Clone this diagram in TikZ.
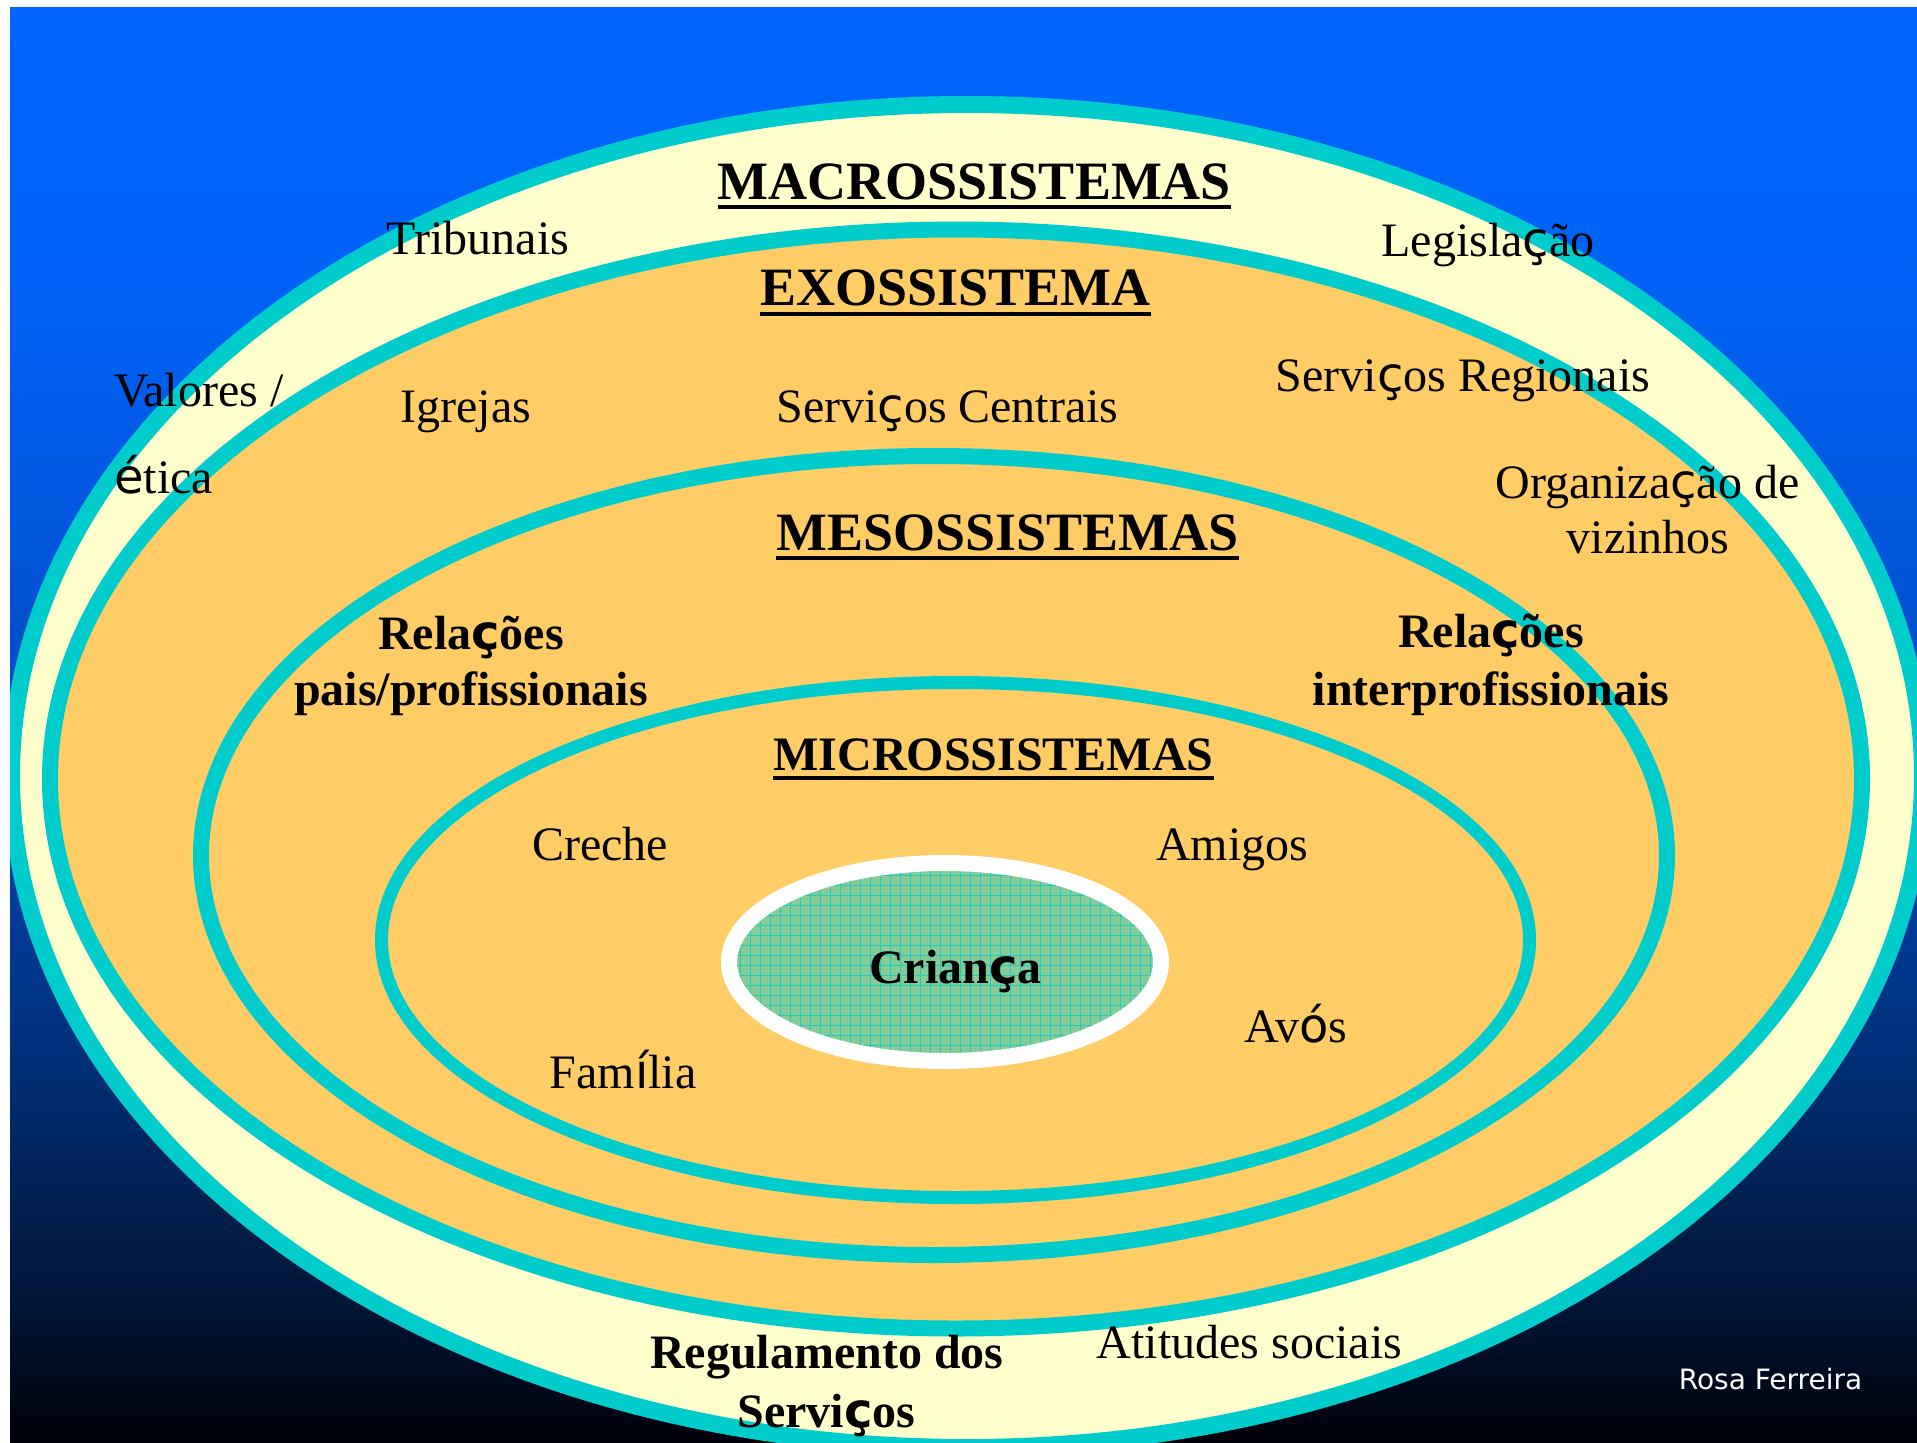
\documentclass[tikz,border=0pt]{standalone}
\usepackage{fontspec}
\setmainfont{Liberation Serif}
\newfontfamily\qfont{DejaVu Sans}
\newfontfamily\rfont{DejaVu Sans}
\newcommand{\qc}[1]{{\qfont #1}}
\definecolor{ringteal}{HTML}{00CCCC}
\definecolor{macroyellow}{HTML}{FFFFCC}
\definecolor{exoorange}{HTML}{FFCC66}
\definecolor{childgreen}{HTML}{86CC98}
\definecolor{gridteal}{HTML}{22CCBB}
\definecolor{bgA}{HTML}{0066FF}
\definecolor{bgB}{HTML}{0062F5}
\definecolor{bgC}{HTML}{0056DA}
\definecolor{bgD}{HTML}{0045B5}
\definecolor{bgE}{HTML}{00307A}
\definecolor{bgF}{HTML}{00204F}
\definecolor{bgG}{HTML}{001638}
\definecolor{bgH}{HTML}{000008}
\begin{document}
\begin{tikzpicture}[x=1pt,y=-1pt,
  txt/.style={inner sep=0pt, anchor=base, font=\fontsize{48}{56}\selectfont},
  txtb/.style={inner sep=0pt, anchor=base, font=\fontsize{48}{56}\selectfont\bfseries},
  ttl/.style={inner sep=0pt, anchor=base, font=\fontsize{54}{62}\selectfont\bfseries},
  ttls/.style={inner sep=0pt, anchor=base, font=\fontsize{48}{56}\selectfont\bfseries},
  uline/.style={line width=4pt, black},
  ringline/.style={draw=ringteal, fill=exoorange}]
\useasboundingbox (0,0) rectangle (1917,1443);
\fill[white] (0,0) rectangle (1917,1443);
\begin{scope}
  \clip (10,7) rectangle (1917,1443);
  % background gradient
  \shade[top color=bgA, bottom color=bgB] (10,7) rectangle (1917,301);
  \shade[top color=bgB, bottom color=bgC] (10,300) rectangle (1917,551);
  \shade[top color=bgC, bottom color=bgD] (10,550) rectangle (1917,801);
  \shade[top color=bgD, bottom color=bgE] (10,800) rectangle (1917,1051);
  \shade[top color=bgE, bottom color=bgF] (10,1050) rectangle (1917,1201);
  \shade[top color=bgF, bottom color=bgG] (10,1200) rectangle (1917,1301);
  \shade[top color=bgG, bottom color=bgH] (10,1300) rectangle (1917,1443);
  % ellipses
  \filldraw[draw=ringteal, fill=macroyellow, line width=17pt] (967,776) ellipse [x radius=955.5pt, y radius=671.5pt];
  \filldraw[ringline, line width=16pt] (956,779) ellipse [x radius=906pt, y radius=549.5pt];
  \filldraw[ringline, line width=16pt] (934,855.5) ellipse [x radius=733pt, y radius=399.5pt];
  \filldraw[ringline, line width=13pt] (955.5,940) ellipse [x radius=574pt, y radius=257.5pt];
  % child
  \begin{scope}
    \clip (945,962) ellipse [x radius=216pt, y radius=99pt];
    \fill[childgreen] (700,850) rectangle (1200,1080);
    \foreach \gx in {720,730,...,1170} \draw[gridteal, line width=1pt] (\gx,850) -- (\gx,1080);
    \foreach \gy in {855,865,...,1075} \draw[gridteal, line width=1pt] (700,\gy) -- (1200,\gy);
  \end{scope}
  \draw[white, line width=16pt] (945,962) ellipse [x radius=216pt, y radius=99pt];
\end{scope}
% titles
\node[ttl] (macro) at (974.5,199) {MACROSSISTEMAS};
\draw[uline] ([yshift=-8pt]macro.base west) -- ([yshift=-8pt]macro.base east);
\node[ttl] (exo) at (955.5,305) {EXOSSISTEMA};
\draw[uline] ([yshift=-9pt]exo.base west) -- ([yshift=-9pt]exo.base east);
\node[ttl] (meso) at (1007.5,550) {MESOSSISTEMAS};
\draw[uline] ([yshift=-8pt]meso.base west) -- ([yshift=-8pt]meso.base east);
\node[ttls] (micro) at (993.5,770) {MICROSSISTEMAS};
\draw[uline] ([yshift=-8pt]micro.base west) -- ([yshift=-8pt]micro.base east);
% macro texts
\node[txt] (tribunais) at (478,254) {Tribunais};
\node[txt] (legislacao) at (1488,256) {Legisla\qc{ç}ão};
\node[txt, anchor=base west] (valores) at (114,406) {Valores /};
\node[txt, anchor=base west] (etica) at (114,493) {\qc{é}tica};
\node[txtb] (regul1) at (827,1368) {Regulamento dos};
\node[txtb] (regul2) at (826.5,1427) {Servi\qc{ç}os};
\node[txt] (atitudes) at (1249.5,1358) {Atitudes sociais};
% exo texts
\node[txt] (igrejas) at (466,422) {Igrejas};
\node[txt] (servcentrais) at (947.5,422) {Servi\qc{ç}os Centrais};
\node[txt] (servregionais) at (1463,391) {Servi\qc{ç}os Regionais};
\node[txt] (organiz1) at (1647.5,498) {Organiza\qc{ç}ão de};
\node[txt] (organiz2) at (1648,553) {vizinhos};
% meso texts
\node[txtb] (relpais1) at (471,649) {Rela\qc{ç}ões};
\node[txtb] (relpais2) at (471,705) {pais/profissionais};
\node[txtb] (relinter1) at (1491,647) {Rela\qc{ç}ões};
\node[txtb] (relinter2) at (1491,705) {interprofissionais};
% micro texts
\node[txt] (creche) at (600,860) {Creche};
\node[txt] (amigos) at (1232,860) {Amigos};
\node[txt] (familia) at (623,1088) {Fam\qc{í}lia};
\node[txt] (avos) at (1296,1042) {Av\qc{ó}s};
\node[txtb] (crianca) at (955.5,983) {Crian\qc{ç}a};
% author
\node[inner sep=0pt, anchor=base, text=white, font=\rfont\fontsize{28}{34}\selectfont] (rosa) at (1770.5,1389) {Rosa Ferreira};
\end{tikzpicture}
\end{document}
